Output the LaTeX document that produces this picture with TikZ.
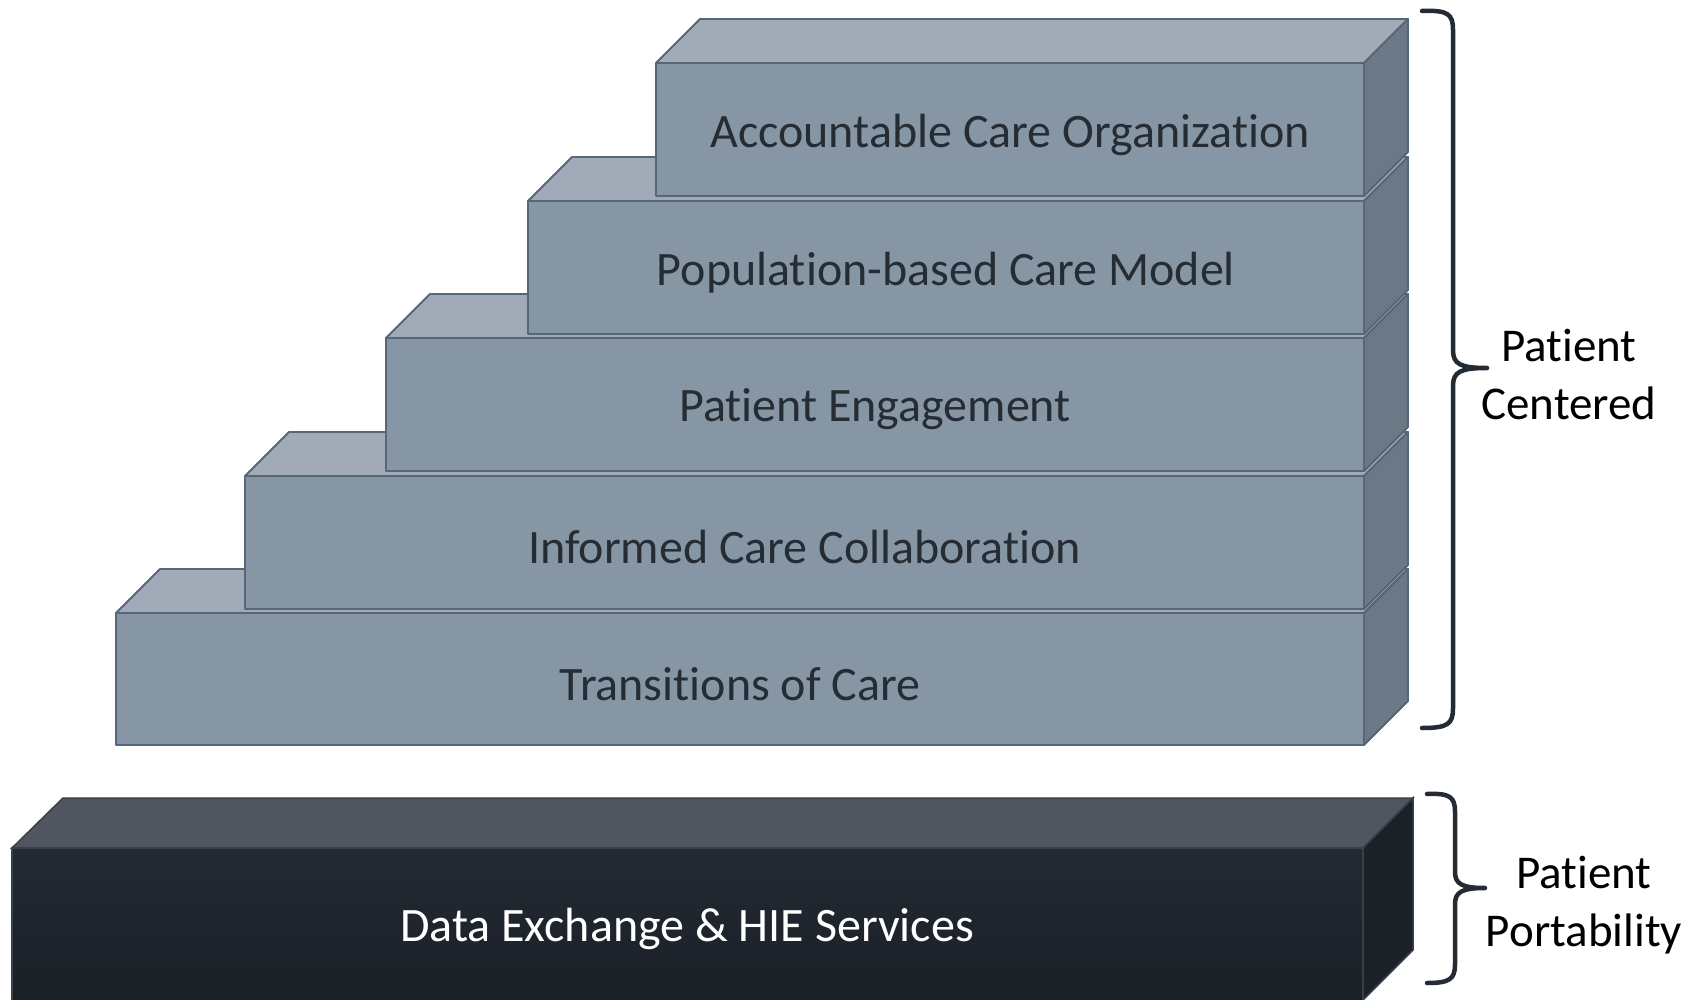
\documentclass[tikz,border=0pt]{standalone}
\usepackage{fontspec}
\setmainfont[Ligatures=NoCommon]{Carlito}
\definecolor{frontc}{HTML}{8796A5}
\definecolor{topc}{HTML}{A0ABB7}
\definecolor{sidec}{HTML}{6C7885}
\definecolor{edgec}{HTML}{56677A}
\definecolor{txtc}{HTML}{262C33}
\definecolor{dfront}{HTML}{232A33}
\definecolor{dtop}{HTML}{4F5660}
\definecolor{dside}{HTML}{1C2128}
\definecolor{dbot}{HTML}{1B2027}
\definecolor{dedge}{HTML}{3A4048}
\definecolor{bracec}{HTML}{252B33}
\newcommand\mkslab[6]{%
  \filldraw[slabedge, fill=topc] (#1,#2) -- (#1+44,#2-44) -- (#3+44,#2-44) -- (#3,#2) -- cycle;
  \filldraw[slabedge, fill=sidec] (#3,#2) -- (#3+44,#2-44) -- (#3+44,#4-44) -- (#3,#4) -- cycle;
  \filldraw[slabedge, fill=frontc] (#1,#2) rectangle (#3,#4);
  \node[slabtext] (#5) at ({(#1+#3)/2},{(#2+#4)/2+5}) {#6};
}
\begin{document}
\begin{tikzpicture}[x=1pt,y=-1pt,
  slabedge/.style={draw=edgec, line width=1.8pt, line join=round},
  slabtext/.style={text=txtc, font=\fontsize{48}{56}\selectfont, inner sep=0pt},
  darktext/.style={text=white, font=\fontsize{48}{56}\selectfont, inner sep=0pt},
  bracestyle/.style={draw=bracec, line width=4.5pt, line cap=round, line join=round},
  lbl/.style={text=black, font=\fontsize{47}{58}\selectfont, align=center, inner sep=0pt}]
\useasboundingbox (0,0) rectangle (1698,1000);
\fill[white] (0,0) rectangle (1698,1000);
% light slabs, bottom to top
\mkslab{116}{613}{1364}{745}{tc}{Transitions of Care}
\mkslab{245}{476}{1364}{609}{icc}{Informed Care Collaboration}
\mkslab{386}{338}{1364}{471}{pe}{Patient Engagement}
\mkslab{528}{201}{1364}{334}{pop}{Population-based Care Model}
\mkslab{656}{63}{1364}{196}{aco}{Accountable Care Organization}
% dark slab
\begin{scope}
\clip (0,0) rectangle (1698,1000);
\filldraw[draw=dedge, line width=1.5pt, fill=dtop] (12,848) -- (63,798) -- (1413,798) -- (1363,848) -- cycle;
\filldraw[draw=dedge, line width=1.5pt, fill=dside] (1363,848) -- (1413,798) -- (1413,950) -- (1363,1000) -- cycle;
\shade[top color=dfront, bottom color=dbot] (12,848) rectangle (1363,1003);
\draw[dedge, line width=1.5pt] (12,1003) -- (12,848) -- (1363,848) -- (1363,1003);
\end{scope}
\node[darktext] (dx) at (687,929) {Data Exchange \& HIE Services};
% braces
\draw[bracestyle] (1422,11) .. controls (1448,10) and (1453,14) .. (1453,30) -- (1453,350)
  .. controls (1453,364) and (1460,368) .. (1487,368)
  .. controls (1460,368) and (1453,372) .. (1453,386) -- (1453,708)
  .. controls (1453,724) and (1448,728) .. (1422,728);
\draw[bracestyle] (1427,794) .. controls (1450,793) and (1455,797) .. (1455,812) -- (1455,872)
  .. controls (1455,884) and (1462,888) .. (1485,888)
  .. controls (1462,888) and (1455,892) .. (1455,904) -- (1455,964)
  .. controls (1455,979) and (1450,983) .. (1427,983);
\node[lbl] (pc) at (1569,375) {Patient\\Centered};
\node[lbl] (pp) at (1584,905) {Patient\\Portability};
\end{tikzpicture}
\end{document}
